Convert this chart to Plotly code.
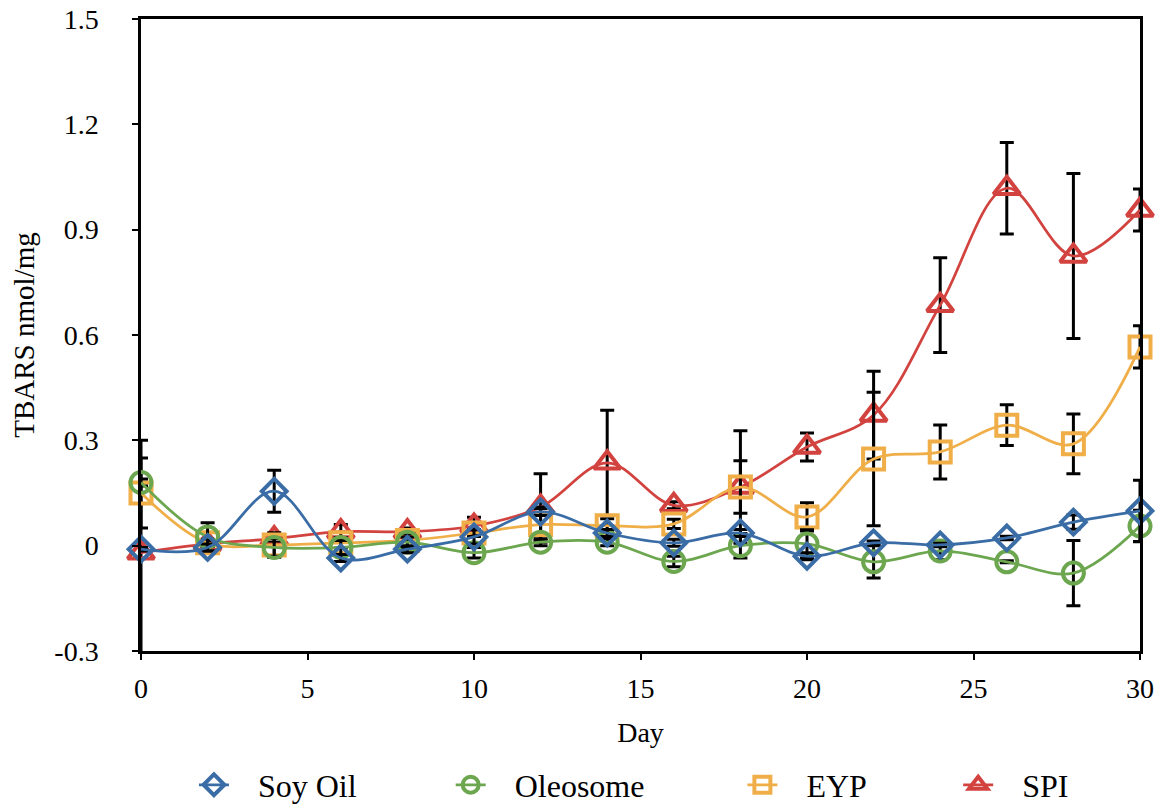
import plotly.graph_objects as go

# Storage day
days = [0, 2, 4, 6, 8, 10, 12, 14, 16, 18, 20, 22, 24, 26, 28, 30]

# TBARS (nmol/mg) means and standard deviations per emulsion
soy_oil = [-0.01, -0.005, 0.155, -0.035, -0.01, 0.025, 0.096, 0.036, 0.008, 0.036, -0.03, 0.008, 0.002, 0.022, 0.067, 0.099]
soy_oil_sd = [0.005, 0.01, 0.06, 0.01, 0.01, 0.02, 0.01, 0.01, 0.01, 0.01, 0.01, 0.005, 0.005, 0.005, 0.02, 0.087]

oleosome = [0.18, 0.025, -0.005, -0.005, 0.01, -0.02, 0.01, 0.01, -0.045, 0.0, 0.005, -0.046, -0.015, -0.046, -0.078, 0.056]
oleosome_sd = [0.01, 0.04, 0.025, 0.02, 0.015, 0.015, 0.01, 0.01, 0.015, 0.035, 0.04, 0.046, 0.025, 0.003, 0.093, 0.045]

eyp = [0.15, 0.008, 0.002, 0.008, 0.015, 0.036, 0.06, 0.057, 0.062, 0.167, 0.082, 0.247, 0.267, 0.343, 0.29, 0.566]
eyp_sd = [0.1, 0.01, 0.035, 0.015, 0.02, 0.01, 0.05, 0.02, 0.013, 0.075, 0.04, 0.19, 0.077, 0.058, 0.085, 0.06]

spi = [-0.02, 0.005, 0.02, 0.04, 0.04, 0.056, 0.11, 0.236, 0.115, 0.167, 0.281, 0.372, 0.685, 1.018, 0.825, 0.956]
spi_sd = [0.32, 0.01, 0.01, 0.02, 0.01, 0.025, 0.095, 0.15, 0.01, 0.16, 0.04, 0.125, 0.135, 0.13, 0.235, 0.06]

x_ticks = [0, 5, 10, 15, 20, 25, 30]
y_ticks = [-0.3, 0, 0.3, 0.6, 0.9, 1.2, 1.5]
y_tick_labels = ["-0.3", "0", "0.3", "0.6", "0.9", "1.2", "1.5"]

FONT = "Liberation Serif, Times New Roman, serif"
PAD = "\u00a0\u00a0\u00a0"  # gap between legend symbol and its label

series = [
    # name, values, sd, colour, symbol, size, legend id, legend x
    ("SPI", spi, spi_sd, "#D2433F", "triangle-up-open", 23, "legend4", 0.818),
    ("EYP", eyp, eyp_sd, "#F0AE48", "square-open", 21, "legend3", 0.602),
    ("Oleosome", oleosome, oleosome_sd, "#6CA64F", "circle-open", 21, "legend2", 0.310),
    ("Soy Oil", soy_oil, soy_oil_sd, "#3A6CA6", "diamond-open", 19, "legend", 0.053),
]

fig = go.Figure()
for name, vals, sd, colour, symbol, size, leg, _ in series:
    fig.add_trace(go.Scatter(
        x=days, y=vals, name=PAD + name, mode="lines+markers",
        line=dict(color=colour, width=2.75, shape="spline", smoothing=1.0),
        marker=dict(symbol=symbol, size=size, color=colour, line=dict(color=colour, width=4)),
        error_y=dict(type="data", array=sd, visible=True, color="black", thickness=3, width=7),
        legend=leg, cliponaxis=False,
    ))

legend_common = dict(
    orientation="h", y=-0.212, yanchor="middle", xanchor="left",
    font=dict(family=FONT, size=32, color="black"), bgcolor="rgba(0,0,0,0)",
)
legend_layout = {}
for name, vals, sd, colour, symbol, size, leg, lx in series:
    legend_layout[leg] = dict(legend_common, x=lx)

axis_font = dict(family=FONT, size=28, color="black")

fig.update_layout(
    width=1161, height=808,
    margin=dict(l=141, r=21, t=19, b=157, autoexpand=False),
    paper_bgcolor="white", plot_bgcolor="white",
    showlegend=True,
    xaxis=dict(
        range=[0, 30], tickvals=x_ticks, ticktext=[str(v) for v in x_ticks],
        showline=True, linecolor="black", linewidth=2.5, mirror=True,
        ticks="outside", ticklen=6, tickwidth=2, tickcolor="black",
        showgrid=False, zeroline=False, tickfont=axis_font, ticklabelstandoff=5,
        title=dict(text="Day", font=axis_font, standoff=20),
    ),
    yaxis=dict(
        range=[-0.3, 1.5], tickvals=y_ticks, ticktext=y_tick_labels,
        showline=True, linecolor="black", linewidth=2.5, mirror=True,
        ticks="outside", ticklen=6, tickwidth=2, tickcolor="black",
        showgrid=False, zeroline=False, tickfont=axis_font, ticklabelstandoff=28,
        title=dict(text="TBARS nmol/mg", font=dict(family=FONT, size=29, color="black"), standoff=12),
    ),
    # inner halves of the crossing tick marks
    xaxis2=dict(
        overlaying="x", anchor="y", side="bottom", range=[0, 30], tickvals=x_ticks,
        ticks="inside", ticklen=6, tickwidth=2, tickcolor="black",
        showticklabels=False, showgrid=False, zeroline=False, showline=False,
    ),
    yaxis2=dict(
        overlaying="y", anchor="x", side="left", range=[-0.3, 1.5], tickvals=y_ticks,
        ticks="inside", ticklen=6, tickwidth=2, tickcolor="black",
        showticklabels=False, showgrid=False, zeroline=False, showline=False,
    ),
    **legend_layout,
)

fig.write_html("out.html")
